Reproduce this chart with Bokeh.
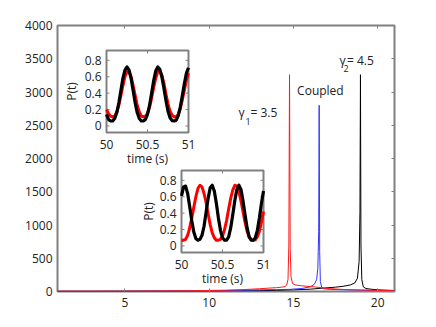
from math import pi
from bokeh.plotting import figure
from bokeh.models import Range1d, LinearAxis, Label, FixedTicker, CustomJSTickFormatter
from bokeh.core.properties import value
from bokeh.embed import file_html
from bokeh.resources import INLINE

# ---------------- data ----------------
x_ticks = [5, 10, 15, 20]
y_ticks = [0, 500, 1000, 1500, 2000, 2500, 3000, 3500, 4000]

red_w = [1, 3, 5, 7, 9, 10, 11, 12, 12.5, 13, 13.5, 14, 14.3, 14.5, 14.6, 14.68, 14.73, 14.77,
         14.81, 14.86, 14.95, 15.1, 15.4, 15.8, 16.3, 17, 18, 19, 20, 21]
red_v = [5, 5, 6, 8, 12, 15, 20, 28, 35, 42, 50, 58, 65, 75, 95, 180, 700, 3260,
         650, 220, 120, 100, 88, 78, 68, 45, 30, 22, 16, 12]

blue_w = [1, 3, 5, 7, 9, 10, 11, 12, 13, 14, 14.8, 15.5, 16.0, 16.25, 16.38, 16.45, 16.5,
          16.53, 16.56, 16.6, 16.68, 16.8, 17.2, 18, 19, 20, 21]
blue_v = [3, 3, 4, 6, 9, 12, 15, 20, 25, 28, 32, 45, 70, 110, 180, 350, 900,
          2800, 600, 150, 60, 40, 32, 26, 20, 15, 12]

black_w = [1, 3, 5, 7, 9, 11, 13, 14, 15, 16, 16.7, 17.5, 18.0, 18.4, 18.65, 18.8, 18.9,
           18.95, 18.98, 19.01, 19.06, 19.15, 19.3, 19.6, 20, 20.5, 21]
black_v = [2, 2, 3, 4, 5, 8, 12, 18, 25, 35, 50, 65, 80, 100, 130, 200, 450,
           1200, 3260, 700, 180, 70, 45, 35, 25, 20, 15]

time = [50.0, 50.025, 50.05, 50.075, 50.1, 50.125, 50.15, 50.175, 50.2, 50.225, 50.25,
        50.275, 50.3, 50.325, 50.35, 50.375, 50.4, 50.425, 50.45, 50.475, 50.5,
        50.525, 50.55, 50.575, 50.6, 50.625, 50.65, 50.675, 50.7, 50.725, 50.75,
        50.775, 50.8, 50.825, 50.85, 50.875, 50.9, 50.925, 50.95, 50.975, 51.0]

inset1_black = [0.14, 0.08, 0.06, 0.06, 0.09, 0.16, 0.28, 0.43, 0.58, 0.68, 0.72, 0.68, 0.58, 0.43,
                0.28, 0.16, 0.09, 0.06, 0.06, 0.08, 0.14, 0.25, 0.40, 0.55, 0.67, 0.72, 0.69, 0.60,
                0.46, 0.31, 0.18, 0.10, 0.065, 0.06, 0.07, 0.125, 0.23, 0.37, 0.52, 0.645, 0.71]
inset1_red = [0.20, 0.15, 0.12, 0.11, 0.12, 0.17, 0.25, 0.37, 0.49, 0.60, 0.66, 0.66, 0.60, 0.49,
              0.37, 0.25, 0.17, 0.12, 0.11, 0.12, 0.15, 0.23, 0.34, 0.47, 0.58, 0.66, 0.67, 0.62,
              0.52, 0.39, 0.27, 0.18, 0.13, 0.11, 0.115, 0.14, 0.21, 0.32, 0.44, 0.56, 0.645]
inset2_black = [0.61, 0.72, 0.73, 0.64, 0.48, 0.31, 0.17, 0.09, 0.07, 0.08, 0.13, 0.24, 0.41, 0.58,
                0.71, 0.74, 0.67, 0.52, 0.34, 0.19, 0.10, 0.07, 0.07, 0.11, 0.22, 0.38, 0.55, 0.69,
                0.74, 0.69, 0.55, 0.38, 0.22, 0.11, 0.07, 0.07, 0.10, 0.19, 0.34, 0.52, 0.67]
inset2_red = [0.07, 0.07, 0.08, 0.13, 0.22, 0.34, 0.47, 0.60, 0.70, 0.74, 0.72, 0.64, 0.53, 0.39,
              0.26, 0.16, 0.10, 0.07, 0.07, 0.08, 0.12, 0.20, 0.31, 0.45, 0.58, 0.68, 0.74, 0.73,
              0.66, 0.55, 0.42, 0.29, 0.18, 0.11, 0.075, 0.07, 0.075, 0.11, 0.18, 0.29, 0.42]

inset_x_ticks = [50, 50.5, 51]
inset_x_labels = ["50", "50.5", "51"]
inset_y_ticks = [0, 0.2, 0.4, 0.6, 0.8]
inset_y_labels = ["0", "0.2", "0.4", "0.6", "0.8"]

# ---------------- layout constants ----------------
W, H = 430, 325
FL, FR, FT, FB = 57, 394, 25, 291        # frame edges in figure px
FW, FH = FR - FL, FB - FT
GRAY = "#808080"
TXT = "#222222"
FONT = "Open Sans"

p = figure(width=W, height=H, x_range=Range1d(1, 21), y_range=Range1d(0, 4000),
           output_backend="svg", toolbar_location=None,
           min_border_left=FL, min_border_right=W - FR, min_border_top=FT, min_border_bottom=H - FB)
p.background_fill_color = "white"
p.border_fill_color = "white"
p.outline_line_color = GRAY
p.outline_line_width = 2
p.grid.visible = False

for ax in (p.xaxis[0], p.yaxis[0]):
    ax.axis_line_color = None
    ax.major_tick_line_color = GRAY
    ax.major_tick_line_width = 1
    ax.minor_tick_line_color = None
    ax.major_label_text_font = FONT
    ax.major_label_text_font_size = "12px"
    ax.major_label_text_color = TXT
p.xaxis[0].ticker = FixedTicker(ticks=x_ticks)
p.yaxis[0].ticker = FixedTicker(ticks=y_ticks)
p.xaxis[0].major_tick_in = 3
p.xaxis[0].major_tick_out = 0
p.xaxis[0].major_label_standoff = 6
p.yaxis[0].major_tick_in = 0
p.yaxis[0].major_tick_out = 0
p.yaxis[0].major_label_standoff = 5

empty = CustomJSTickFormatter(code="return ''")
top = LinearAxis(ticker=FixedTicker(ticks=x_ticks), formatter=empty, axis_line_color=None,
                 major_tick_in=3, major_tick_out=0, minor_tick_line_color=None,
                 major_tick_line_color=GRAY, major_label_standoff=0,
                 major_label_text_font_size="0px")
right = LinearAxis(ticker=FixedTicker(ticks=y_ticks), formatter=empty, axis_line_color=None,
                   major_tick_in=3, major_tick_out=0, minor_tick_line_color=None,
                   major_tick_line_color=GRAY, major_label_standoff=0,
                   major_label_text_font_size="0px")
p.add_layout(top, "above")
p.add_layout(right, "right")

# main spectra
p.line(black_w, black_v, line_color="black", line_width=1)
p.line(blue_w, blue_v, line_color="#3535ff", line_width=1)
p.line(red_w, red_v, line_color="#ff1a1a", line_width=1)

# ---------------- insets via extra ranges ----------------
PXU = 82.0                 # inset px per unit
Y_LO, Y_HI = -0.08, 0.92   # inset frame vertical extent
def add_inset(name, left_px, bottom_px):
    # left_px / bottom_px: inset frame position in figure px
    xs = 50 - (left_px - FL) / PXU
    ys = Y_LO - (FB - bottom_px) / PXU
    p.extra_x_ranges[name + "x"] = Range1d(xs, xs + FW / PXU)
    p.extra_y_ranges[name + "y"] = Range1d(ys, ys + FH / PXU)
    return dict(x_range_name=name + "x", y_range_name=name + "y")

def draw_inset(kw, red, black, ylab_dx):
    p.quad(left=[inset_x_ticks[0]], right=[inset_x_ticks[-1]], bottom=[Y_LO], top=[Y_HI],
           fill_color="white", line_color=GRAY, line_width=2, **kw)
    tl = 3 / PXU
    mid = inset_x_ticks[1:-1]
    p.segment(x0=mid, y0=[Y_LO] * len(mid), x1=mid, y1=[Y_LO + tl] * len(mid),
              line_color=GRAY, line_width=1, **kw)
    p.segment(x0=mid, y0=[Y_HI] * len(mid), x1=mid, y1=[Y_HI - tl] * len(mid),
              line_color=GRAY, line_width=1, **kw)
    n = len(inset_y_ticks)
    p.segment(x0=[50] * n, y0=inset_y_ticks, x1=[50 + tl] * n, y1=inset_y_ticks,
              line_color=GRAY, line_width=1, **kw)
    p.segment(x0=[51] * n, y0=inset_y_ticks, x1=[51 - tl] * n, y1=inset_y_ticks,
              line_color=GRAY, line_width=1, **kw)
    p.line(time, red, line_color="#ff0000", line_width=3, line_join="round", **kw)
    p.line(time, black, line_color="black", line_width=3.2, line_join="round", **kw)
    p.text(x=inset_x_ticks, y=[Y_LO] * 3, text=inset_x_labels, y_offset=12,
           text_align="center", text_baseline="middle", text_font=value(FONT),
           text_font_size="12px", text_color=TXT, **kw)
    p.text(x=[50] * n, y=inset_y_ticks, text=inset_y_labels, x_offset=-5,
           text_align="right", text_baseline="middle", text_font=value(FONT),
           text_font_size="12px", text_color=TXT, **kw)
    p.text(x=[50.5], y=[Y_LO], text=["time (s)"], y_offset=26,
           text_align="center", text_baseline="middle", text_font=value(FONT),
           text_font_size="12px", text_color=TXT, **kw)
    p.text(x=[50 - ylab_dx / PXU], y=[0.42], text=["P(t)"], angle=pi / 2,
           text_align="center", text_baseline="middle", text_font=value(FONT),
           text_font_size="12px", text_color=TXT, **kw)

k1 = add_inset("i1", 106, 132)
draw_inset(k1, inset1_red, inset1_black, 35)
k2 = add_inset("i2", 181, 252)
draw_inset(k2, inset2_red, inset2_black, 33)

# ---------------- text annotations ----------------
def lab(x, y, t, size="12px", font=FONT, **kw):
    p.add_layout(Label(x=x, y=y, text=t, text_font=font, text_font_size=size,
                       text_color=TXT, **kw))

lab(11.74, 2692, "γ", text_baseline="alphabetic")
lab(12.16, 2557, "1", size="9px", text_baseline="alphabetic")
lab(12.45, 2692, "= 3.5", text_baseline="alphabetic")
lab(15.22, 3023, "Coupled", text_baseline="alphabetic")
lab(17.74, 3474, "γ", text_baseline="alphabetic")
lab(17.97, 3354, "2", size="9px", text_baseline="alphabetic")
lab(18.18, 3474, "= 4.5", text_baseline="alphabetic")
lab(-1.55, 1993, "|P( ω)|", angle=pi / 2, text_align="center", text_baseline="middle")
lab(10.97, -391, "ω", size="11px", font="DejaVu Serif", text_align="center",
    text_baseline="middle")

open("out.html", "w").write(file_html(p, INLINE))
